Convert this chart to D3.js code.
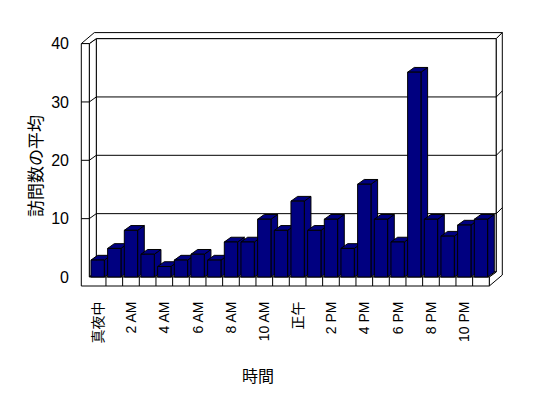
<!DOCTYPE html>
<html>
	<head>
		<meta charset="utf-8">
		<title>訪問数の平均</title>
		<style>
			body, html {
				margin: 0;
				padding: 0;
				background: #fff;
			}
			text {
				font-family: "Liberation Sans", "Noto Sans CJK JP", sans-serif;
				fill: #000;
			}
		</style>
	</head>
	<body>

		<svg id="svg" width="548" height="398"></svg>

		<script src="https://d3js.org/d3.v7.min.js"></script>
		<script>
			// Hours of the day (category axis)
			const hours = [
				'真夜中', '1 AM', '2 AM', '3 AM', '4 AM', '5 AM',
				'6 AM', '7 AM', '8 AM', '9 AM', '10 AM', '11 AM',
				'正午', '1 PM', '2 PM', '3 PM', '4 PM', '5 PM',
				'6 PM', '7 PM', '8 PM', '9 PM', '10 PM', '11 PM'
			]

			// Average number of visits per hour
			const visits = [
				2.9, 4.9, 8.0, 3.9, 1.8, 2.9,
				3.9, 2.9, 6.0, 6.0, 9.9, 8.0,
				13.0, 8.0, 9.9, 4.9, 15.9, 9.9,
				6.0, 35.1, 9.9, 7.0, 8.9, 9.9
			]

			// Value axis ticks
			const yTicks = [0, 10, 20, 30, 40]

			const yTitle = '訪問数の平均'
			const xTitle = '時間'

			const svg = d3.select('#svg')

			// plot box (front plane), in px
			const x0 = 89.3, yBase = 277
			const W = 400, LW = 8, FT = 9
			const D = [7, -5]   // front -> back wall
			const T = [6, -6]   // back wall thickness

			const xscale = d3.scaleBand()
				.domain(hours)
				.range([0, W])
				.paddingInner(0.2)
				.paddingOuter(0.1)

			const yscale = d3.scaleLinear()
				.domain([0, 40])
				.range([0, 233.4])

			const H = yscale(40)

			// project (x along axis, height, depth 0..2) to the screen
			function P(x, h, z) {
				const a = Math.min(z, 1), b = Math.max(z - 1, 0)
				return [x0 + x + a * D[0] + b * T[0], yBase - h + a * D[1] + b * T[1]]
			}

			const line = d3.line()

			function face(g, pts, fill) {
				g.append('path')
					.attr('d', line(pts) + 'Z')
					.attr('fill', fill)
					.attr('stroke', '#000')
					.attr('stroke-width', 1)
					.attr('stroke-linejoin', 'miter')
			}

			const walls = svg.append('g')

			// back wall, inner face
			face(walls, [P(0, 0, 1), P(W, 0, 1), P(W, H, 1), P(0, H, 1)], '#fff')
			// left wall, inner face
			face(walls, [P(0, 0, 0), P(0, 0, 1), P(0, H, 1), P(0, H, 0)], '#fff')
			// floor, top face
			face(walls, [P(0, 0, 0), P(W, 0, 0), P(W, 0, 1), P(0, 0, 1)], '#fff')
			// top edges of both walls
			face(walls, [P(-LW, H, 0), P(0, H, 0), P(0, H, 1), P(W, H, 1), P(W, H, 2), P(-LW, H, 2)], '#fff')
			// right side of back wall and floor
			face(walls, [P(W, 0, 0), P(W, 0, 1), P(W, H, 1), P(W, H, 2), P(W, -FT, 2), P(W, -FT, 0)], '#fff')
			// front of left wall + floor
			face(walls, [P(-LW, H, 0), P(0, H, 0), P(0, 0, 0), P(W, 0, 0), P(W, -FT, 0), P(-LW, -FT, 0)], '#fff')

			// gridlines
			walls.selectAll('.grid')
				.data(yTicks.filter(v => v > 0 && v < 40))
				.join('path')
				.attr('class', 'grid')
				.attr('d', v => {
					const h = yscale(v)
					return line([P(-LW, h, 0), P(0, h, 0), P(0, h, 1), P(W, h, 1), P(W, h, 2)])
				})
				.attr('fill', 'none')
				.attr('stroke', '#000')

			// category dividers on the floor front
			const step = xscale.step()
			walls.selectAll('.div')
				.data(d3.range(1, hours.length))
				.join('path')
				.attr('class', 'div')
				.attr('d', i => line([P(i * step, 0, 0), P(i * step, -FT, 0)]))
				.attr('stroke', '#000')

			// bars, left to right
			const zb = 0.95
			const bars = svg.append('g')
			hours.forEach((cat, i) => {
				const bx = xscale(cat), bw = xscale.bandwidth(), h = yscale(visits[i])
				face(bars, [P(bx + bw, 0, 0), P(bx + bw, 0, zb), P(bx + bw, h, zb), P(bx + bw, h, 0)], '#000080')
				face(bars, [P(bx, h, 0), P(bx + bw, h, 0), P(bx + bw, h, zb), P(bx, h, zb)], '#000080')
				face(bars, [P(bx, 0, 0), P(bx + bw, 0, 0), P(bx + bw, h, 0), P(bx, h, 0)], '#000080')
			})

			// value axis labels
			svg.selectAll('.ytick')
				.data(yTicks)
				.join('text')
				.attr('class', 'ytick')
				.attr('x', 69)
				.attr('y', v => yBase - yscale(v))
				.attr('dy', '0.35em')
				.attr('text-anchor', 'end')
				.style('font-size', '16px')
				.text(v => v)

			// category labels, every second hour
			svg.selectAll('.xtick')
				.data(hours.filter((d, i) => i % 2 === 0))
				.join('text')
				.attr('class', 'xtick')
				.attr('transform', d => `translate(${x0 + xscale(d) + xscale.bandwidth() / 2}, 301.5) rotate(-90)`)
				.attr('dy', '0.35em')
				.attr('text-anchor', 'end')
				.style('font-size', '14px')
				.text(d => d)

			// axis titles
			svg.append('text')
				.attr('transform', 'translate(36, 166) rotate(-90)')
				.attr('text-anchor', 'middle')
				.attr('dominant-baseline', 'central')
				.style('font-size', '17px')
				.text(yTitle)

			svg.append('text')
				.attr('x', 258)
				.attr('y', 376)
				.attr('text-anchor', 'middle')
				.attr('dominant-baseline', 'central')
				.style('font-size', '16px')
				.text(xTitle)
		</script>
	</body>
</html>
